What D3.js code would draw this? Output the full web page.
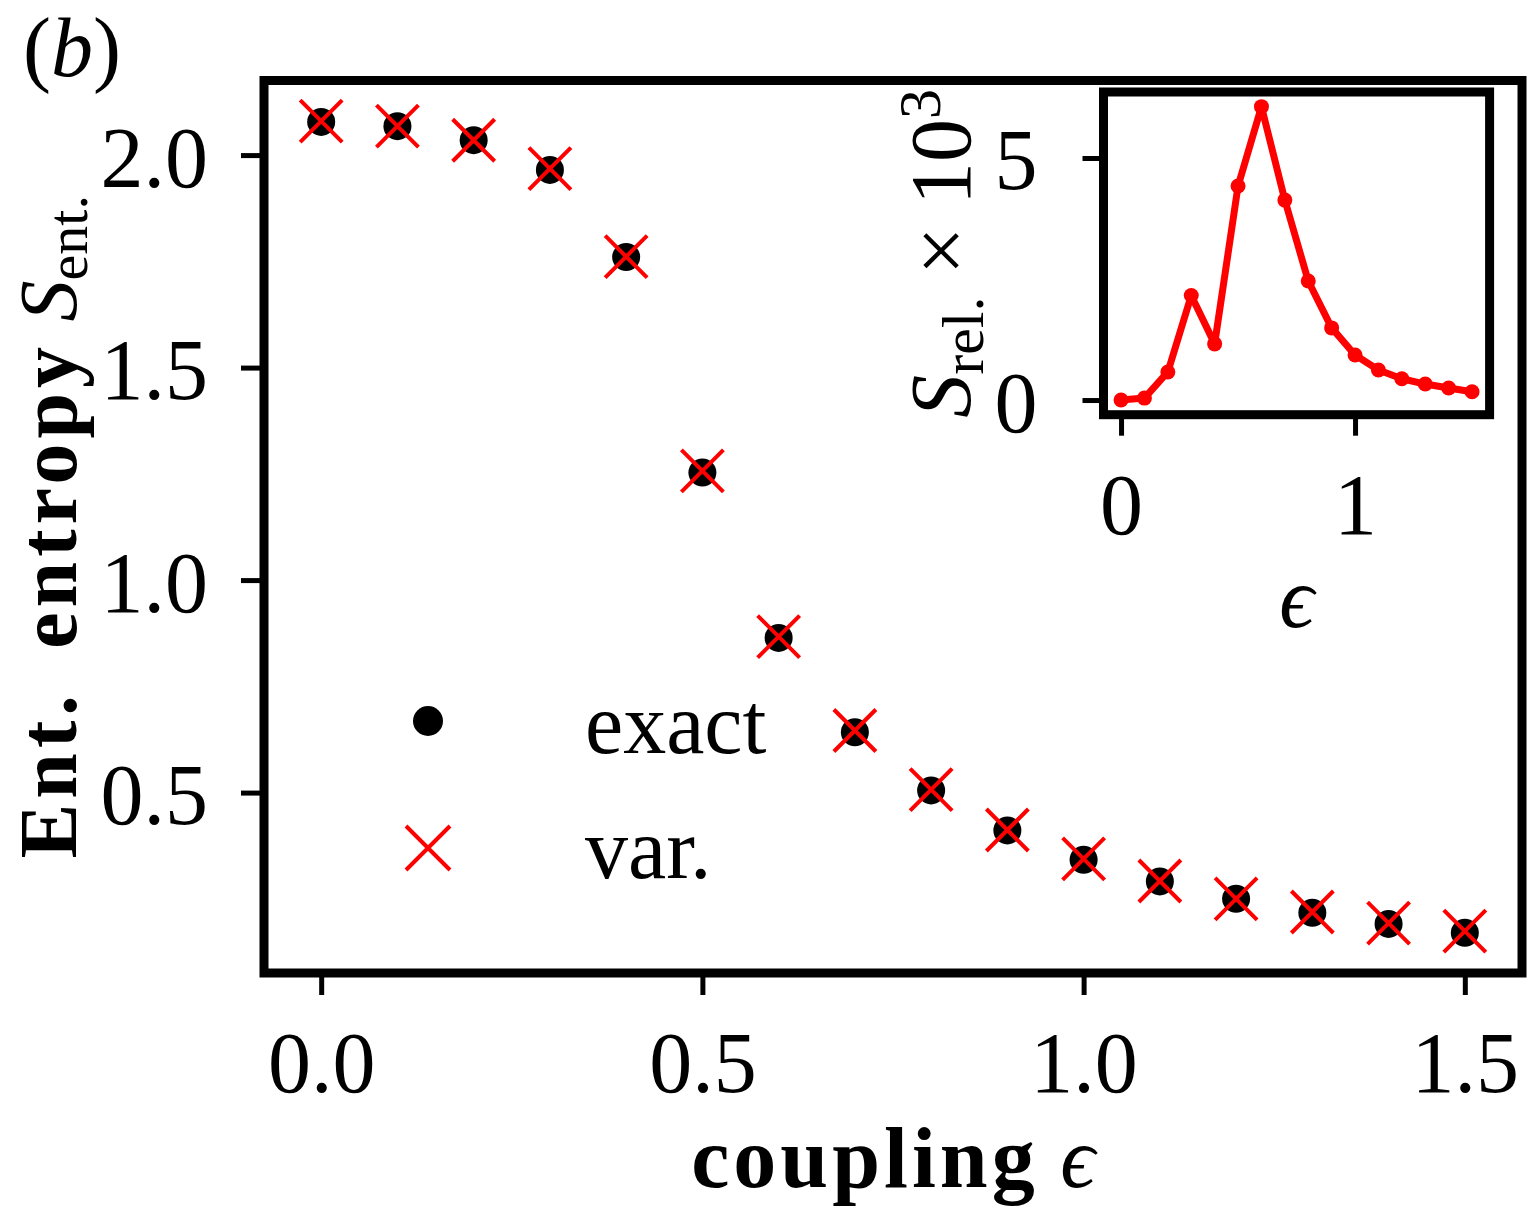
<!DOCTYPE html>
<html lang="en">
<head>
<meta charset="UTF-8">
<title>Ent. entropy vs coupling</title>
<script src="https://d3js.org/d3.v7.min.js"></script>
<style>
  body { margin: 0; background: #ffffff; }
  svg { display: block; }
  text { font-family: 'Liberation Serif', 'DejaVu Serif', serif; fill: #000; }
  .axis path.domain { display: none; }
  .axis line { stroke: #000; stroke-width: 5; }
  .axis text { font-size: 86px; }
</style>
</head>
<body>
<div id="chart"></div>
<script>
// coupling values (same for all series)
const coupling = [0.0, 0.1, 0.2, 0.3, 0.4, 0.5, 0.6, 0.7, 0.8, 0.9, 1.0, 1.1, 1.2, 1.3, 1.4, 1.5];
// entanglement entropy, exact diagonalisation
const exactEnt = [2.078, 2.068, 2.035, 1.965, 1.760, 1.253, 0.864, 0.642, 0.505, 0.411, 0.342, 0.291, 0.250, 0.217, 0.191, 0.170];
// entanglement entropy, variational
const varEnt = [2.080, 2.068, 2.035, 1.968, 1.761, 1.257, 0.867, 0.646, 0.507, 0.412, 0.344, 0.292, 0.250, 0.219, 0.193, 0.174];
// inset: relative entropy x 10^3
const relEnt = [0.0, 0.04, 0.58, 2.16, 1.16, 4.42, 6.06, 4.13, 2.46, 1.49, 0.93, 0.62, 0.44, 0.33, 0.25, 0.17];

const xTicks = [0.0, 0.5, 1.0, 1.5];
const yTicks = [0.5, 1.0, 1.5, 2.0];
const insetXTicks = [0, 1];
const insetYTicks = [0, 5];

const W = 1534, H = 1208;
const svg = d3.select('#chart').append('svg').attr('width', W).attr('height', H);

// main axes
const x = d3.scaleLinear().domain([-0.075, 1.575]).range([264, 1522]);
const y = d3.scaleLinear().domain([0.0755, 2.1755]).range([973, 80.5]);

svg.append('g').attr('class', 'axis')
  .attr('transform', `translate(0,${y.range()[0]})`)
  .call(d3.axisBottom(x).tickValues(xTicks).tickFormat(d3.format('.1f')).tickSize(22).tickPadding(36));

svg.append('g').attr('class', 'axis')
  .attr('transform', `translate(${x.range()[0]},0)`)
  .call(d3.axisLeft(y).tickValues(yTicks).tickFormat(d3.format('.1f')).tickSize(23).tickPadding(33))
  .selectAll('text').attr('dy', '0.36em');

svg.append('rect')
  .attr('x', x.range()[0]).attr('y', y.range()[1])
  .attr('width', x.range()[1] - x.range()[0])
  .attr('height', y.range()[0] - y.range()[1])
  .attr('fill', 'none').attr('stroke', '#000').attr('stroke-width', 9);

const crossPath = (cx, cy, h) => `M${cx - h},${cy - h}L${cx + h},${cy + h}M${cx - h},${cy + h}L${cx + h},${cy - h}`;

svg.append('g').selectAll('circle').data(coupling).join('circle')
  .attr('cx', d => x(d)).attr('cy', (d, i) => y(exactEnt[i]))
  .attr('r', 14).attr('fill', '#000');

svg.append('g').selectAll('path').data(coupling).join('path')
  .attr('d', (d, i) => crossPath(x(d), y(varEnt[i]), 21))
  .attr('stroke', '#ff0000').attr('stroke-width', 4).attr('fill', 'none');

// legend
const legend = svg.append('g');
legend.append('circle').attr('cx', 428).attr('cy', 721).attr('r', 15).attr('fill', '#000');
legend.append('path').attr('d', crossPath(428, 848, 22))
  .attr('stroke', '#ff0000').attr('stroke-width', 4).attr('fill', 'none');
legend.append('text').attr('x', 585).attr('y', 753).style('font-size', '86px').text('exact');
legend.append('text').attr('x', 585).attr('y', 878).style('font-size', '86px').text('var.');

// axis labels
const xl = svg.append('text').attr('x', (x.range()[0] + x.range()[1]) / 2).attr('y', 1187)
  .attr('text-anchor', 'middle').style('font-size', '86px');
xl.append('tspan').style('font-weight', 'bold').style('letter-spacing', '4px').text('coupling');
xl.append('tspan').style('font-style', 'italic').text(' \u03F5');

const yl = svg.append('text')
  .attr('transform', `translate(76,${(y.range()[0] + y.range()[1]) / 2}) rotate(-90)`)
  .attr('text-anchor', 'middle').style('font-size', '82px');
yl.append('tspan').style('font-weight', 'bold').style('letter-spacing', '5px').style('word-spacing', '16px').text('Ent. entropy');
yl.append('tspan').style('font-style', 'italic').text(' S');
yl.append('tspan').style('font-size', '58px').attr('dy', 11).text('ent.');

// panel label
const pl = svg.append('text').attr('x', 23).attr('y', 76).style('font-size', '84px');
pl.append('tspan').text('(');
pl.append('tspan').style('font-style', 'italic').text('b');
pl.append('tspan').text(')');

// inset
const xi = d3.scaleLinear().domain([-0.075, 1.575]).range([1103.5, 1489.6]);
const yi = d3.scaleLinear().domain([-0.303, 6.363]).range([414.7, 92]);

svg.append('rect')
  .attr('x', xi.range()[0]).attr('y', yi.range()[1])
  .attr('width', xi.range()[1] - xi.range()[0])
  .attr('height', yi.range()[0] - yi.range()[1])
  .attr('fill', '#fff');

svg.append('g').attr('class', 'axis')
  .attr('transform', `translate(0,${yi.range()[0]})`)
  .call(d3.axisBottom(xi).tickValues(insetXTicks).tickFormat(d3.format('d')).tickSize(21).tickPadding(37));

svg.append('g').attr('class', 'axis')
  .attr('transform', `translate(${xi.range()[0]},0)`)
  .call(d3.axisLeft(yi).tickValues(insetYTicks).tickFormat(d3.format('d')).tickSize(21).tickPadding(45))
  .selectAll('text').attr('dy', '0.36em');

const line = d3.line().x(d => xi(d[0])).y(d => yi(d[1]));
svg.append('path').datum(coupling.map((c, i) => [c, relEnt[i]]))
  .attr('d', line).attr('fill', 'none')
  .attr('stroke', '#ff0000').attr('stroke-width', 7).attr('stroke-linejoin', 'round');

svg.append('g').selectAll('circle').data(coupling).join('circle')
  .attr('cx', d => xi(d)).attr('cy', (d, i) => yi(relEnt[i]))
  .attr('r', 7.5).attr('fill', '#ff0000');

svg.append('rect')
  .attr('x', xi.range()[0]).attr('y', yi.range()[1])
  .attr('width', xi.range()[1] - xi.range()[0])
  .attr('height', yi.range()[0] - yi.range()[1])
  .attr('fill', 'none').attr('stroke', '#000').attr('stroke-width', 9);

svg.append('text').attr('x', (xi.range()[0] + xi.range()[1]) / 2).attr('y', 627)
  .attr('text-anchor', 'middle').style('font-size', '86px').style('font-style', 'italic').text('\u03F5');

const iyl = svg.append('text')
  .attr('transform', `translate(970,${(yi.range()[0] + yi.range()[1]) / 2}) rotate(-90)`)
  .attr('text-anchor', 'middle').style('font-size', '86px');
iyl.append('tspan').style('font-style', 'italic').text('S');
iyl.append('tspan').style('font-size', '60px').attr('dy', 13).text('rel.');
iyl.append('tspan').attr('dy', -13).text(' \u00D7 10');
iyl.append('tspan').style('font-size', '60px').attr('dy', -30).text('3');
</script>
</body>
</html>
